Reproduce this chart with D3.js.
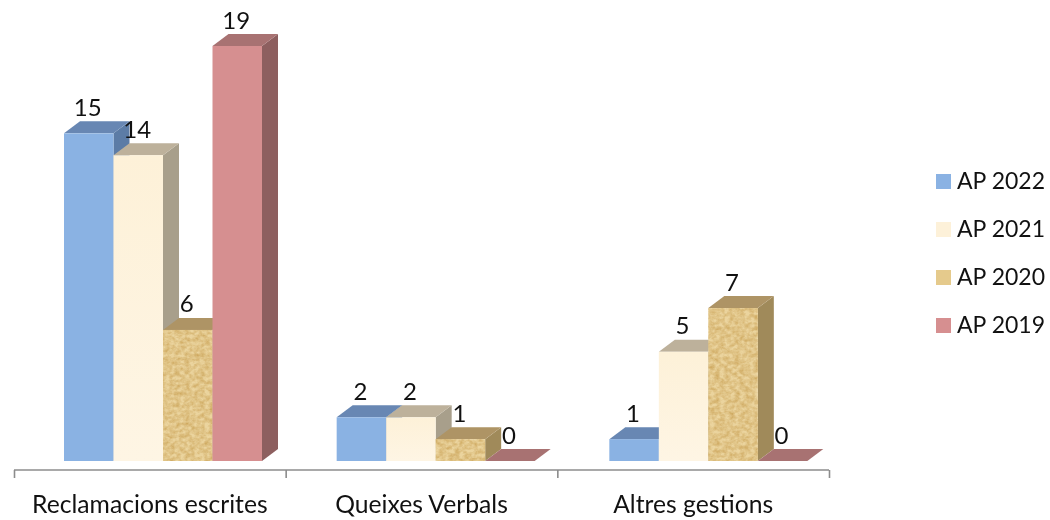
<!DOCTYPE html>
<html><head><meta charset="utf-8">
<script src="https://cdn.jsdelivr.net/npm/d3@7"></script>
<style>html,body{margin:0;padding:0;background:#fff}svg{display:block}text{font-family:Lato,"Open Sans",sans-serif;fill:#111}</style>
</head><body><div id="c"></div>
<script>
const categories = ["Reclamacions escrites","Queixes Verbals","Altres gestions"];
const seriesNames = ["AP 2022","AP 2021","AP 2020","AP 2019"];
const ap2022 = [15,2,1];
const ap2021 = [14,2,5];
const ap2020 = [6,1,7];
const ap2019 = [19,0,0];
const seriesValues = [ap2022,ap2021,ap2020,ap2019];
const frontColors = ["#8AB2E3","url(#creamGrad)","#EBD49E","#D68F90"];
const legendColors = ["#8AB2E3","#FDF1D9","#E5CA8C","#D68F90"];
const topColors = ["#6787B3","#BDB19B","#AE9465","#A87272"];
const sideColors = ["#5C7CA6","#A89F8B","#A08A5A","#8D5E5E"];

const W=1050,H=520,base=461,dx=16,dy=12;
const svg=d3.select("#c").append("svg").attr("width",W).attr("height",H);
const defs=svg.append("defs");
const g=defs.append("linearGradient").attr("id","creamGrad").attr("x1",0).attr("y1",0).attr("x2",0).attr("y2",1);
g.append("stop").attr("offset",0).attr("stop-color","#FDF1D8");
g.append("stop").attr("offset",1).attr("stop-color","#FEF5E4");
const f=defs.append("filter").attr("id","grain").attr("x",0).attr("y",0).attr("width",1).attr("height",1).attr("color-interpolation-filters","sRGB");
f.append("feTurbulence").attr("type","fractalNoise").attr("baseFrequency","0.2 0.26").attr("numOctaves",3).attr("seed",4).attr("result","n");
f.append("feColorMatrix").attr("in","n").attr("type","matrix").attr("values","0 0 0 0 0.80  0 0 0 0 0.65  0 0 0 0 0.36  1.5 0 0 0 -0.42").attr("result","t");
f.append("feComposite").attr("in","t").attr("in2","SourceGraphic").attr("operator","in").attr("result","c");
const m=f.append("feMerge");
m.append("feMergeNode").attr("in","SourceGraphic");m.append("feMergeNode").attr("in","c");
const soft=defs.append("filter").attr("id","soft").attr("x","-5%").attr("y","-5%").attr("width","110%").attr("height","110%");
soft.append("feGaussianBlur").attr("stdDeviation",0.5);

const y=d3.scaleLinear().domain([0,19]).range([base,46]);
const xGroup=d3.scaleBand().domain(categories).range([64,882]).paddingInner(0).paddingOuter(0);
const xBar=d3.scaleBand().domain(seriesNames).range([0,198]);
const axisPos=d3.scaleLinear().domain([0,3]).range([14,829]);

// axis
const axisG=svg.append("g").attr("transform","translate(0,470)")
  .call(d3.axisBottom(axisPos).tickValues([0,1,2,3]).tickFormat("").tickSize(8).tickSizeOuter(0));
axisG.selectAll("path,line").attr("stroke","#8C8C8C").attr("stroke-width",1.6);
axisG.select("path").attr("d",`M${axisPos(0)},0H${axisPos(3)}`);

// bars
const marks=svg.append("g").attr("filter","url(#soft)");
categories.forEach((cat,ci)=>{
  seriesNames.forEach((s,si)=>{
    const v=seriesValues[si][ci], x0=xGroup(cat)+xBar(s), w=xBar.bandwidth(), yt=y(v), x1=x0+w;
    const gg=marks.append("g");
    gg.append("path").attr("fill",sideColors[si])
      .attr("d",`M${x1},${yt}L${x1+dx},${yt-dy}L${x1+dx},${base-dy}L${x1},${base}Z`);
    gg.append("path").attr("fill",topColors[si])
      .attr("d",`M${x0},${yt}L${x0+dx},${yt-dy}L${x1+dx},${yt-dy}L${x1},${yt}Z`);
    const r=gg.append("rect").attr("x",x0).attr("y",yt).attr("width",w).attr("height",base-yt).attr("fill",frontColors[si]);
    if(si===2) r.attr("filter","url(#grain)");
  });
});

// value labels
categories.forEach((cat,ci)=>{
  seriesNames.forEach((s,si)=>{
    const v=seriesValues[si][ci];
    svg.append("text").attr("x",xGroup(cat)+xBar(s)+xBar.bandwidth()/2-1).attr("y",y(v)-17.5)
      .attr("text-anchor","middle").attr("font-size",24).text(v);
  });
});

// category labels
categories.forEach((cat,ci)=>{
  svg.append("text").attr("x",axisPos(ci+0.5)).attr("y",513).attr("text-anchor","middle").attr("font-size",24.7).text(cat);
});

// legend
seriesNames.forEach((s,i)=>{
  const ly=181.5+48*i;
  svg.append("rect").attr("x",936).attr("y",ly-7.5).attr("width",15).attr("height",15).attr("fill",legendColors[i]);
  svg.append("text").attr("x",957).attr("y",ly+7.5).attr("font-size",23).text(s);
});
</script></body></html>
